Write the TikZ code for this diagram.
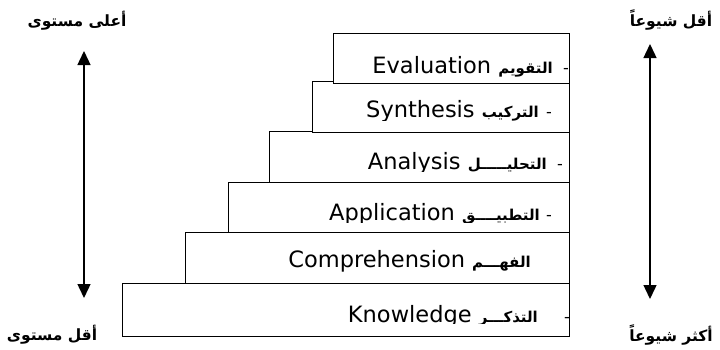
\documentclass[tikz,border=0pt]{standalone}
\usepackage{fontspec}
\setmainfont{DejaVu Sans}
\newfontfamily\arabicfont[Script=Arabic]{DejaVu Sans}
\TeXXeTstate=1
\usetikzlibrary{arrows.meta, positioning}

\newcommand{\artext}[1]{{\arabicfont\bfseries\fontsize{15}{17}\selectfont\beginR #1\endR}}

\tikzset{
  level/.style={draw, fill=white, line width=1.3pt, inner sep=0pt, anchor=north east},
  rowlabel/.style={anchor=base east, inner sep=0pt, font=\fontsize{22.5}{25}\selectfont},
  dashlabel/.style={anchor=base west, inner sep=0pt, font=\fontsize{16}{18}\selectfont},
  corner/.style={inner sep=0pt, font=\arabicfont\bfseries\fontsize{15.5}{17}\selectfont},
  scalearrow/.style={{Triangle[length=14pt, width=13pt]}-{Triangle[length=14pt, width=13pt]}, line width=1.4pt}
}

\begin{document}
\begin{tikzpicture}[x=1pt, y=-1pt]
   \useasboundingbox (0,0) rectangle (720,349);

   % Levels (bottom first, so each upper step lies on top)
   \node[level, minimum width=447pt, minimum height=53pt] (know) at (570,283) {};
   \node[level, minimum width=384pt, minimum height=51pt] (comp) at (570,232) {};
   \node[level, minimum width=341pt, minimum height=50pt] (appl) at (570,182) {};
   \node[level, minimum width=300pt, minimum height=51pt] (anal) at (570,131) {};
   \node[level, minimum width=257pt, minimum height=51pt] (synth) at (570,81) {};
   \node[level, minimum width=236pt, minimum height=50pt] (eval) at (570,33) {};

   % Level texts
   \node[rowlabel] (evaltext) at (553,73) {Evaluation \artext{التقويم}};
   \node[dashlabel] (evaldash) at (563,73) {-};

   \begin{scope}
      \clip (synth.north west) rectangle (570,120);
      \node[rowlabel] (synthtext) at (539,117) {Synthesis \artext{التركيب}};
      \node[dashlabel] (synthdash) at (546,117) {-};
   \end{scope}

   \begin{scope}
      \clip (anal.north west) rectangle (570,171);
      \node[rowlabel] (analtext) at (547,169) {Analysis \artext{التحليـــــل}};
      \node[dashlabel] (analdash) at (557,169) {-};
   \end{scope}

   \begin{scope}
      \clip (appl.north west) rectangle (570,222);
      \node[rowlabel] (appltext) at (540,220) {Application \artext{التطبيــــق}};
      \node[dashlabel] (appldash) at (546,220) {-};
   \end{scope}

   \node[rowlabel] (comptext) at (531,267) {Comprehension \artext{الفهـــم}};

   \begin{scope}
      \clip (know.north west) rectangle (570,323);
      \node[rowlabel] (knowtext) at (538,322) {Knowledge \artext{التذكـــر}};
      \node[dashlabel] (knowdash) at (564,322) {-};
   \end{scope}

   % Scales
   \coordinate (lefttop) at (84,51);
   \coordinate (leftbot) at (84,298);
   \coordinate (righttop) at (650,44);
   \coordinate (rightbot) at (650,299);
   \draw[scalearrow] (leftbot) -- (lefttop);
   \draw[scalearrow] (rightbot) -- (righttop);

   \node[corner] (high) at (77,21) {\beginR أعلى مستوى\endR};
   \node[corner] (low) at (52,335) {\beginR أقل مستوى\endR};
   \node[corner] (rare) at (671,20) {\beginR أقل شيوعاً\endR};
   \node[corner] (common) at (671,335) {\beginR أكثر شيوعاً\endR};
\end{tikzpicture}
\end{document}
